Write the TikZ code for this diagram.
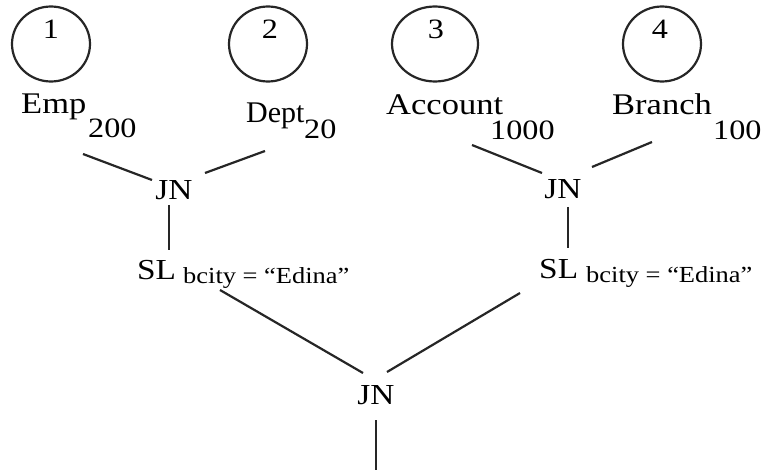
\documentclass[tikz,border=0pt]{standalone}
\usepackage{fontspec}
\setmainfont[FakeStretch=1.15]{Liberation Serif}
\newfontfamily\plainserif{Liberation Serif}
\usetikzlibrary{shapes.geometric}
\begin{document}
\begin{tikzpicture}[x=1pt,y=-1pt,
  ring/.style={ellipse,draw=black!85,line width=2.2pt,minimum width=78pt,minimum height=75pt,inner sep=0pt},
  num/.style={inner sep=0pt,font=\fontsize{28}{30}\selectfont},
  rel/.style={inner sep=0pt,anchor=base west,font=\fontsize{30}{34}\selectfont},
  card/.style={inner sep=0pt,anchor=base west,font=\fontsize{28}{32}\selectfont},
  op/.style={inner sep=0pt,font=\fontsize{29}{32}\selectfont},
  cond/.style={inner sep=0pt,anchor=base west,font=\fontsize{23}{26}\selectfont},
  edge/.style={line width=2.2pt,draw=black!85}]
\useasboundingbox (0,0) rectangle (775,470);
% circles and numbers
\node[ring] (c1) at (51,44) {};
\node[ring] (c2) at (268,44) {};
\node[ring,minimum width=86pt] (c3) at (435,44) {};
\node[ring] (c4) at (662,44) {};
\node[num] (n1) at (51,29) {1};
\node[num] (n2) at (270,29) {2};
\node[num] (n3) at (436,29) {3};
\node[num] (n4) at (660,29) {4};
% relations
\node[rel] (emp) at (21,114) {Emp};
\node[card] (emps) at (88,138) {200};
\node[rel,font=\plainserif\fontsize{30}{34}\selectfont] (dept) at (246,123) {Dept};
\node[card] (depts) at (304,139) {20};
\node[rel] (acc) at (386,115) {Account};
\node[card] (accs) at (490,140) {1000};
\node[rel] (br) at (612,115) {Branch};
\node[card] (brs) at (713,140) {100};
% operators
\node[op] (j1) at (174,190) {JN};
\node[op] (j2) at (563,189) {JN};
\node[op] (j3) at (376,395) {JN};
\node[op,anchor=base west] (s1) at (137,279) {SL};
\node[cond] (s1c) at (183,283) {bcity = “Edina”};
\node[op,anchor=base west] (s2) at (539,278) {SL};
\node[cond] (s2c) at (586,282) {bcity = “Edina”};
% connector ends
\coordinate (a1) at (83,154);
\coordinate (b1) at (152,180);
\coordinate (a2) at (265,151);
\coordinate (b2) at (205,173);
\coordinate (a3) at (472,145);
\coordinate (b3) at (542,173);
\coordinate (a4) at (652,142);
\coordinate (b4) at (592,167);
\coordinate (v1t) at (169,205);
\coordinate (v1b) at (169,250);
\coordinate (v2t) at (568,207);
\coordinate (v2b) at (568,248);
\coordinate (d1) at (220,290);
\coordinate (e1) at (363,373);
\coordinate (d2) at (520,293);
\coordinate (e2) at (387,372);
\coordinate (r1) at (376,420);
\coordinate (r2) at (376,470);
\draw[edge] (a1) -- (b1);
\draw[edge] (a2) -- (b2);
\draw[edge] (a3) -- (b3);
\draw[edge] (a4) -- (b4);
\draw[edge] (v1t) -- (v1b);
\draw[edge] (v2t) -- (v2b);
\draw[edge] (d1) -- (e1);
\draw[edge] (d2) -- (e2);
\draw[edge] (r1) -- (r2);
\end{tikzpicture}
\end{document}
